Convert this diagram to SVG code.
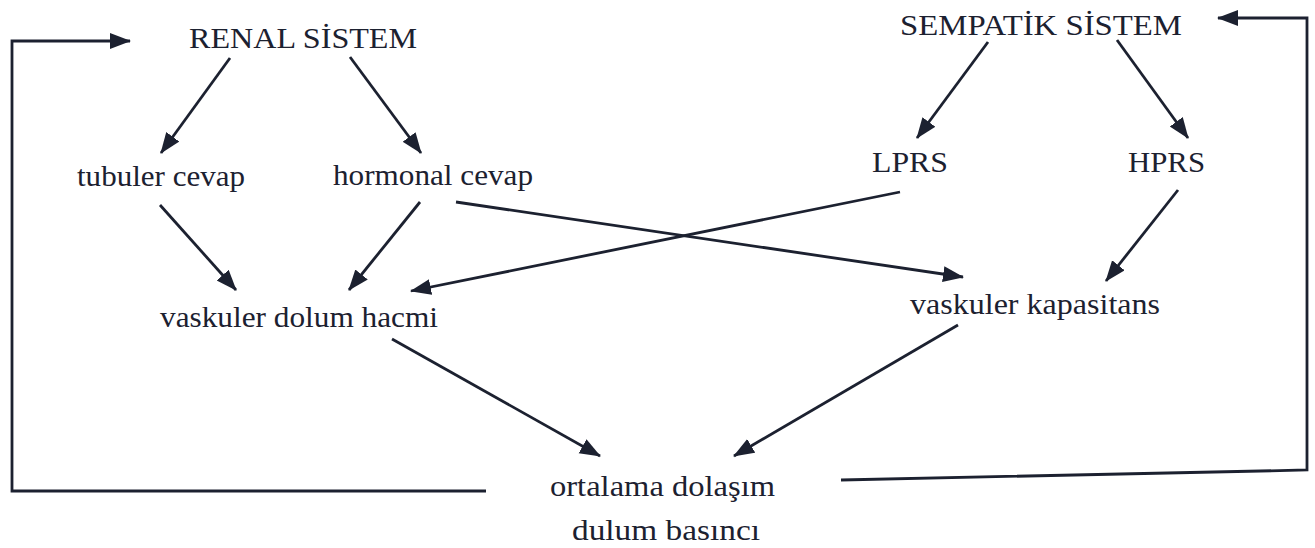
<svg xmlns="http://www.w3.org/2000/svg" width="1315" height="548" viewBox="0 0 1315 548">
  <style>
    .lbl { font-family: "Liberation Serif", "Times New Roman", serif; fill: #1c2130; font-size: 30px; }
    .ttl { font-size: 30px; }
    .edge { stroke: #1c2130; stroke-width: 2.8; fill: none; }
  </style>
  <defs>
    <marker id="arr" markerUnits="userSpaceOnUse" markerWidth="22" markerHeight="18" refX="20" refY="8" orient="auto">
      <path d="M0,0 L21,8 L0,16 z" fill="#1c2130"/>
    </marker>
  </defs>
  <rect width="1315" height="548" fill="#ffffff"/>

  <g id="connectors">
    <!-- feedback loops -->
    <polyline class="edge" points="486,491 12,491 12,41 130,41" marker-end="url(#arr)"/>
    <polyline class="edge" points="841,480 1307,470 1307,18 1218,18" marker-end="url(#arr)"/>
    <!-- renal -->
    <line class="edge" x1="230" y1="58" x2="161" y2="153" marker-end="url(#arr)"/>
    <line class="edge" x1="350" y1="57" x2="421" y2="153" marker-end="url(#arr)"/>
    <!-- sempatik -->
    <line class="edge" x1="988" y1="42" x2="917" y2="138" marker-end="url(#arr)"/>
    <line class="edge" x1="1117" y1="40" x2="1188" y2="138" marker-end="url(#arr)"/>
    <!-- to vaskuler dolum hacmi -->
    <line class="edge" x1="160" y1="205" x2="236" y2="290" marker-end="url(#arr)"/>
    <line class="edge" x1="420" y1="202" x2="349" y2="290" marker-end="url(#arr)"/>
    <line class="edge" x1="900" y1="192" x2="411" y2="291" marker-end="url(#arr)"/>
    <!-- to vaskuler kapasitans -->
    <line class="edge" x1="456" y1="202" x2="963" y2="277" marker-end="url(#arr)"/>
    <line class="edge" x1="1178" y1="190" x2="1106" y2="281" marker-end="url(#arr)"/>
    <!-- to ortalama -->
    <line class="edge" x1="392" y1="339" x2="600" y2="456" marker-end="url(#arr)"/>
    <line class="edge" x1="958" y1="325" x2="734" y2="456" marker-end="url(#arr)"/>
  </g>

  <g id="renal"><text class="lbl ttl" x="189" y="48" textLength="228" lengthAdjust="spacingAndGlyphs">RENAL SİSTEM</text></g>
  <g id="sempatik"><text class="lbl ttl" x="900" y="35" textLength="282" lengthAdjust="spacingAndGlyphs">SEMPATİK SİSTEM</text></g>
  <g id="tubuler"><text class="lbl" x="77" y="186" textLength="168" lengthAdjust="spacingAndGlyphs">tubuler cevap</text></g>
  <g id="hormonal"><text class="lbl" x="333" y="185" textLength="200" lengthAdjust="spacingAndGlyphs">hormonal cevap</text></g>
  <g id="lprs"><text class="lbl" x="872" y="172" textLength="76" lengthAdjust="spacingAndGlyphs">LPRS</text></g>
  <g id="hprs"><text class="lbl" x="1128" y="172" textLength="77" lengthAdjust="spacingAndGlyphs">HPRS</text></g>
  <g id="dolum"><text class="lbl" x="160" y="327" textLength="278" lengthAdjust="spacingAndGlyphs">vaskuler dolum hacmi</text></g>
  <g id="kapasitans"><text class="lbl" x="910" y="314" textLength="250" lengthAdjust="spacingAndGlyphs">vaskuler kapasitans</text></g>
  <g id="ortalama">
    <text class="lbl" x="550" y="496" textLength="225" lengthAdjust="spacingAndGlyphs">ortalama dolaşım</text>
    <text class="lbl" x="572" y="540" textLength="188" lengthAdjust="spacingAndGlyphs">dulum basıncı</text>
  </g>
</svg>
